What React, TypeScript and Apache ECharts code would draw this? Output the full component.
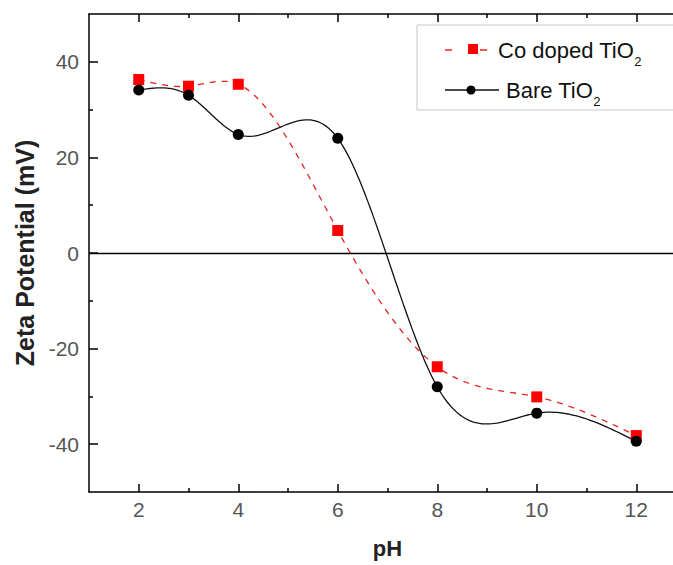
import React, { useEffect, useRef } from "react";
import * as echarts from "echarts";

const pH = [2, 3, 4, 6, 8, 10, 12];
const coDoped = [36.3, 34.9, 35.3, 4.7, -23.8, -30.1, -38.2];
const bare = [34.1, 33.0, 24.8, 24.0, -28.0, -33.5, -39.4];
const xMajorTicks = [2, 4, 6, 8, 10, 12];
const xMinorTicks = [3, 5, 7, 9, 11];
const yMajorTicks = [-40, -20, 0, 20, 40];
const yMinorTicks = [-30, -10, 10, 30];
const seriesNames = ["Co doped TiO", "Bare TiO"];

const FONT = "'Liberation Sans', Arial, sans-serif";
const AX = { color: "#000", width: 1.5 };

// Natural cubic spline (like Origin's "Spline" connection) through the data points,
// evaluated along x for drawing the connecting curve.
function splineCurve(xs: number[], ys: number[], steps: number): number[][] {
  const n = xs.length;
  const h: number[] = [];
  for (let i = 0; i < n - 1; i++) h.push(xs[i + 1] - xs[i]);
  const M = new Array(n).fill(0);
  const a: number[] = [], b: number[] = [], c: number[] = [], d: number[] = [];
  for (let i = 1; i < n - 1; i++) {
    a.push(h[i - 1]);
    b.push(2 * (h[i - 1] + h[i]));
    c.push(h[i]);
    d.push(6 * ((ys[i + 1] - ys[i]) / h[i] - (ys[i] - ys[i - 1]) / h[i - 1]));
  }
  const m = b.length;
  for (let i = 1; i < m; i++) {
    const w = a[i] / b[i - 1];
    b[i] -= w * c[i - 1];
    d[i] -= w * d[i - 1];
  }
  const sol = new Array(m).fill(0);
  sol[m - 1] = d[m - 1] / b[m - 1];
  for (let i = m - 2; i >= 0; i--) sol[i] = (d[i] - c[i] * sol[i + 1]) / b[i];
  for (let i = 0; i < m; i++) M[i + 1] = sol[i];
  const out: number[][] = [];
  for (let i = 0; i < n - 1; i++) {
    const hi = h[i];
    for (let k = 0; k < steps; k++) {
      const x = xs[i] + (hi * k) / steps;
      const A = xs[i + 1] - x;
      const B = x - xs[i];
      const y =
        (M[i] * A * A * A) / (6 * hi) +
        (M[i + 1] * B * B * B) / (6 * hi) +
        (ys[i] / hi - (M[i] * hi) / 6) * A +
        (ys[i + 1] / hi - (M[i + 1] * hi) / 6) * B;
      out.push([x, y]);
    }
  }
  out.push([xs[n - 1], ys[n - 1]]);
  return out;
}

function curveSeries(ys: number[], style: any, z: number) {
  const samples = splineCurve(pH, ys, 40);
  return {
    type: "custom",
    coordinateSystem: "cartesian2d",
    xAxisIndex: 0,
    yAxisIndex: 0,
    data: pH.map((x, i) => [x, ys[i]]),
    encode: { x: 0, y: 1 },
    silent: true,
    z,
    renderItem: (params: any, api: any) => {
      if (params.dataIndex !== 0) return { type: "group", children: [] };
      const points = samples.map((p) => api.coord(p));
      return { type: "polyline", shape: { points }, style: { fill: null, ...style } };
    },
  };
}

export default function App() {
  const ref = useRef<HTMLDivElement>(null);
  useEffect(() => {
    if (!ref.current) return;
    const chart = echarts.init(ref.current, null, { renderer: "svg" });
    const xBase = { type: "value", min: 1, max: 13, splitLine: { show: false }, gridIndex: 0 };
    const yBase = { type: "value", min: -50, max: 50, splitLine: { show: false }, gridIndex: 0 };
    const hidden = { show: false };
    chart.setOption({
      animation: false,
      backgroundColor: "#fff",
      grid: { left: 89, top: 14, width: 597, height: 478, containLabel: false, outerBoundsMode: "none" },
      xAxis: [
        {
          ...xBase,
          position: "bottom",
          axisLine: { show: true, onZero: false, lineStyle: AX },
          axisTick: { show: true, inside: true, length: 8, customValues: xMajorTicks, lineStyle: AX },
          axisLabel: { show: true, customValues: xMajorTicks, margin: 7, fontSize: 21, color: "#555", fontFamily: FONT },
          name: "pH",
          nameLocation: "middle",
          nameGap: 45,
          nameTextStyle: { fontSize: 22, fontWeight: "bold", color: "#222", fontFamily: FONT },
        },
        {
          ...xBase,
          position: "bottom",
          axisLine: { show: false, onZero: false },
          axisTick: { show: true, inside: true, length: 4, customValues: xMinorTicks, lineStyle: AX },
          axisLabel: hidden,
        },
        {
          ...xBase,
          position: "top",
          axisLine: { show: true, onZero: false, lineStyle: AX },
          axisTick: { show: true, inside: true, length: 8, customValues: xMajorTicks, lineStyle: AX },
          axisLabel: hidden,
        },
        {
          ...xBase,
          position: "top",
          axisLine: { show: false, onZero: false },
          axisTick: { show: true, inside: true, length: 4, customValues: xMinorTicks, lineStyle: AX },
          axisLabel: hidden,
        },
      ],
      yAxis: [
        {
          ...yBase,
          position: "left",
          axisLine: { show: true, onZero: false, lineStyle: AX },
          axisTick: { show: true, inside: true, length: 9, customValues: yMajorTicks, lineStyle: AX },
          axisLabel: { show: true, customValues: yMajorTicks, margin: 10, fontSize: 21, color: "#555", fontFamily: FONT },
          name: "Zeta Potential (mV)",
          nameLocation: "middle",
          nameRotate: 90,
          nameGap: 46,
          nameTextStyle: { fontSize: 25, fontWeight: "bold", color: "#222", fontFamily: FONT },
        },
        {
          ...yBase,
          position: "left",
          axisLine: { show: false, onZero: false },
          axisTick: { show: true, inside: true, length: 4, customValues: yMinorTicks, lineStyle: AX },
          axisLabel: hidden,
        },
      ],
      series: [
        curveSeries(coDoped, { stroke: "#e8231f", lineWidth: 1.3, lineDash: [6, 6] }, 2),
        curveSeries(bare, { stroke: "#111", lineWidth: 1.3 }, 3),
        {
          name: seriesNames[0],
          type: "scatter",
          xAxisIndex: 0,
          yAxisIndex: 0,
          data: pH.map((x, i) => [x, coDoped[i]]),
          symbol: "rect",
          symbolSize: 11,
          itemStyle: { color: "#ff0000", opacity: 1 },
          z: 4,
          markLine: {
            silent: true,
            symbol: ["none", "none"],
            label: { show: false },
            lineStyle: { color: "#000", width: 1.4, type: "solid" },
            data: [{ yAxis: 0 }],
          },
        },
        {
          name: seriesNames[1],
          type: "scatter",
          xAxisIndex: 0,
          yAxisIndex: 0,
          data: pH.map((x, i) => [x, bare[i]]),
          symbol: "circle",
          symbolSize: 11,
          itemStyle: { color: "#000", opacity: 1 },
          z: 5,
        },
      ],
      graphic: [
        {
          type: "rect",
          shape: { x: 417, y: 25, width: 300, height: 85 },
          style: { fill: "#fff", stroke: "#c8c8c8", lineWidth: 1 },
          z: 10,
        },
        { type: "line", shape: { x1: 445, y1: 50, x2: 452, y2: 50 }, style: { stroke: "#e8231f", lineWidth: 1.5 }, z: 11 },
        { type: "line", shape: { x1: 480, y1: 50, x2: 487, y2: 50 }, style: { stroke: "#e8231f", lineWidth: 1.5 }, z: 11 },
        { type: "rect", shape: { x: 468, y: 44, width: 10, height: 10 }, style: { fill: "#ff0000" }, z: 11 },
        {
          type: "text",
          x: 498,
          y: 50,
          z: 11,
          style: {
            text: "{a|" + seriesNames[0] + "}{s|2}",
            verticalAlign: "middle",
            align: "left",
            fill: "#111",
            fontFamily: FONT,
            rich: {
              a: { fontSize: 22, lineHeight: 36, verticalAlign: "middle", fill: "#111", fontFamily: FONT },
              s: { fontSize: 13, verticalAlign: "bottom", fill: "#111", fontFamily: FONT },
            },
          },
        },
        { type: "line", shape: { x1: 445, y1: 90, x2: 499, y2: 90 }, style: { stroke: "#111", lineWidth: 1.4 }, z: 11 },
        { type: "circle", shape: { cx: 471, cy: 90, r: 4.5 }, style: { fill: "#000" }, z: 12 },
        {
          type: "text",
          x: 506,
          y: 90,
          z: 11,
          style: {
            text: "{a|" + seriesNames[1] + "}{s|2}",
            verticalAlign: "middle",
            align: "left",
            fill: "#111",
            fontFamily: FONT,
            rich: {
              a: { fontSize: 22, lineHeight: 36, verticalAlign: "middle", fill: "#111", fontFamily: FONT },
              s: { fontSize: 13, verticalAlign: "bottom", fill: "#111", fontFamily: FONT },
            },
          },
        },
      ],
    });
    return () => chart.dispose();
  }, []);
  return (
    <div
      ref={ref}
      style={{ position: "fixed", left: 0, top: 0, width: 673, height: 565, overflow: "hidden" }}
    />
  );
}
